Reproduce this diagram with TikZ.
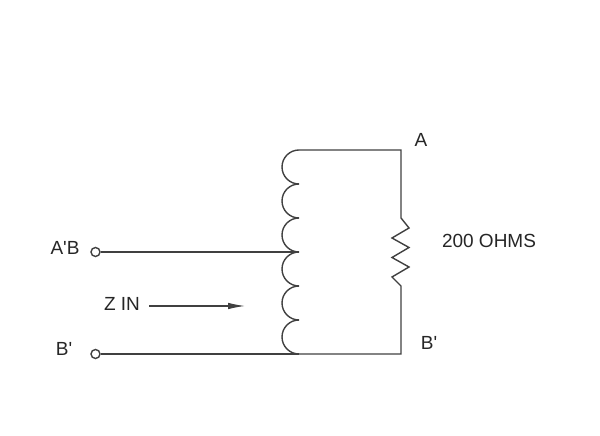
\documentclass[tikz,border=0pt]{standalone}
\usepackage{fontspec}
\setmainfont{Liberation Sans}
\usetikzlibrary{arrows.meta}
\begin{document}
\begin{tikzpicture}[x=1pt,y=1pt,line width=1.4pt,color=black!75]
        \useasboundingbox (0,0) rectangle (600,436);
        \tikzset{lab/.style={inner sep=0pt,text=black!85,font=\fontsize{19}{21}\selectfont},
                 term/.style={circle,draw,fill=white,inner sep=0pt,minimum size=9pt}}
        \node [lab] (A) at (421,296) {A};
        \node [lab] (B) at (429,93) {B\textquotesingle};
        \node [lab] (R) at (489,195) {200 OHMS};
        \node [lab] (AB) at (65,188) {A\textquotesingle B};
        \node [lab] (BB) at (64,87) {B\textquotesingle};
        \node [lab] (Z) at (122,132) {Z IN};
        \node [term] (P) at (95.5,184) {};
        \node [term] (Q) at (95.5,82) {};
        \coordinate (top) at (299,286);
        \coordinate (tap) at (299,184);
        \coordinate (bot) at (299,82);
        \coordinate (tr) at (401,286);
        \coordinate (br) at (401,82);
        \coordinate (ra) at (401,218);
        \coordinate (rb) at (401,150);
        \coordinate (za) at (149,130);
        \coordinate (zb) at (245,130);
        \foreach \y in {286,252,218,184,150,116}
            \draw (299,\y) arc [start angle=90,end angle=270,x radius=17,y radius=17];
        \draw (top) -- (tr) -- (ra) -- ++(8,-10) -- ++(-17,-10) -- ++(17,-9.5) -- ++(-17,-10) -- ++(17,-9.5) -- ++(-17,-10) -- (rb) -- (br) -- (bot);
        \draw (P) -- (tap);
        \draw (Q) -- (bot);
        \draw [-{Latex[length=17pt,width=6.5pt]}, line width=1.1pt] (za) -- (zb);
    \end{tikzpicture}
\end{document}
